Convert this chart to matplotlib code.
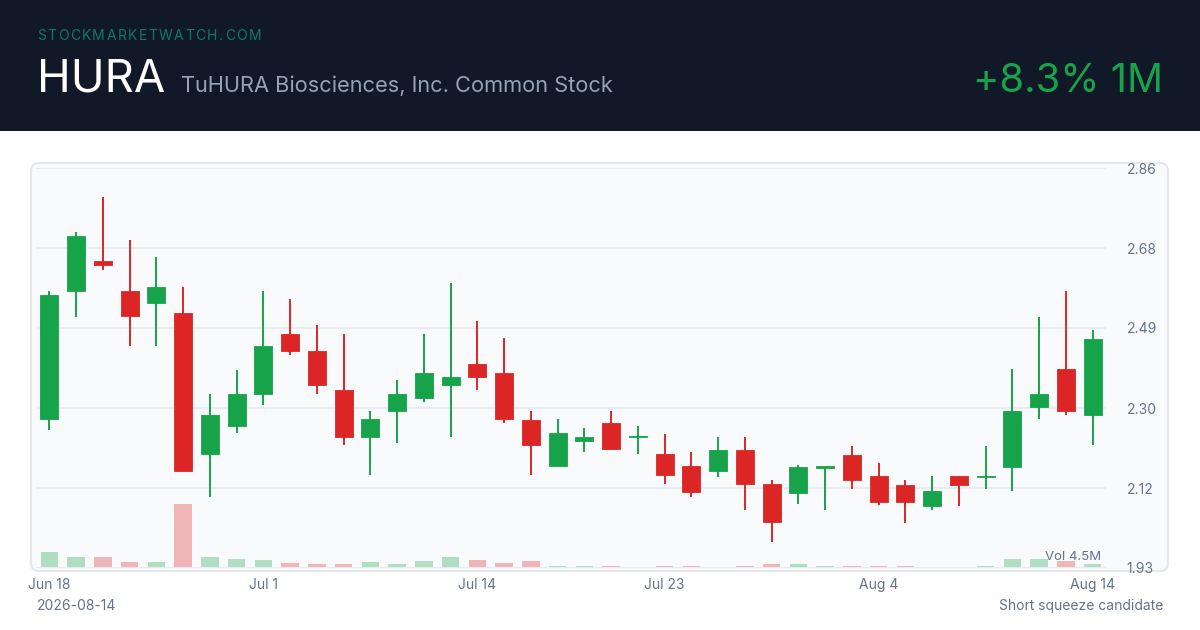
import numpy as np
import pandas as pd
import matplotlib
matplotlib.use("Agg")
import matplotlib.pyplot as plt
from matplotlib.patches import Rectangle, FancyBboxPatch
from matplotlib.transforms import IdentityTransform

plt.rcParams['font.family'] = ['Inter', 'DejaVu Sans']

# 日线数据 (HURA, 2026-06-18 ~ 2026-08-14)
opens = [2.278, 2.577, 2.646, 2.576, 2.547, 2.526, 2.198, 2.262, 2.337, 2.476,
         2.436, 2.347, 2.237, 2.298, 2.327, 2.357, 2.407, 2.386, 2.277, 2.168,
         2.228, 2.268, 2.236, 2.198, 2.168, 2.158, 2.207, 2.128, 2.106, 2.165,
         2.195, 2.146, 2.126, 2.077, 2.146, 2.144, 2.166, 2.306, 2.395, 2.287]
highs = [2.575, 2.714, 2.795, 2.695, 2.655, 2.586, 2.336, 2.392, 2.575, 2.557,
         2.496, 2.476, 2.296, 2.368, 2.476, 2.595, 2.506, 2.466, 2.297, 2.278,
         2.257, 2.297, 2.262, 2.243, 2.202, 2.237, 2.237, 2.136, 2.171, 2.167,
         2.216, 2.175, 2.136, 2.146, 2.147, 2.216, 2.395, 2.516, 2.576, 2.486]
lows = [2.252, 2.516, 2.626, 2.447, 2.447, 2.157, 2.098, 2.247, 2.312, 2.427,
        2.337, 2.217, 2.148, 2.222, 2.317, 2.237, 2.347, 2.268, 2.148, 2.168,
        2.202, 2.208, 2.198, 2.128, 2.098, 2.143, 2.068, 1.993, 2.081, 2.067,
        2.116, 2.079, 2.037, 2.066, 2.076, 2.116, 2.111, 2.278, 2.287, 2.217]
closes = [2.566, 2.705, 2.636, 2.517, 2.586, 2.158, 2.287, 2.337, 2.447, 2.436,
          2.357, 2.237, 2.278, 2.337, 2.386, 2.377, 2.377, 2.278, 2.218, 2.247,
          2.237, 2.208, 2.237, 2.148, 2.108, 2.207, 2.128, 2.038, 2.166, 2.166,
          2.136, 2.086, 2.086, 2.110, 2.126, 2.145, 2.296, 2.336, 2.296, 2.465]
volumes = [1.09, 0.76, 0.80, 0.40, 0.40, 4.50, 0.78, 0.61, 0.54, 0.35,
           0.26, 0.26, 0.44, 0.26, 0.49, 0.76, 0.54, 0.33, 0.47, 0.14,
           0.16, 0.12, 0.09, 0.14, 0.16, 0.09, 0.16, 0.26, 0.26, 0.12,
           0.16, 0.16, 0.12, 0.05, 0.05, 0.16, 0.66, 0.64, 0.49, 0.28]  # 百万股

holidays = ['2026-06-19', '2026-07-03']
dates = pd.bdate_range('2026-06-18', '2026-08-14')
dates = dates[~dates.isin(pd.to_datetime(holidays))]

tick_dates = ['2026-06-18', '2026-07-01', '2026-07-14', '2026-07-23', '2026-08-04', '2026-08-14']
price_ticks = [1.932, 2.118, 2.304, 2.490, 2.676, 2.862]

ticker = "HURA"
company = "TuHURA Biosciences, Inc. Common Stock"
change_text = "+8.3% 1M"
site = "STOCKMARKETWATCH.COM"
date_text = "2026-08-14"
note_text = "Short squeeze candidate"

GREEN = '#16a34a'
RED = '#dc2626'
SLATE = '#64748b'
W, H = 1200, 630

fig = plt.figure(figsize=(12, 6.3), dpi=100)
fig.patch.set_facecolor('white')

def fy(y):
    return 1 - y / H

# 顶部深色标题栏
fig.patches.append(Rectangle((0, fy(131)), 1, 131 / H, transform=fig.transFigure,
                             facecolor='#111827', edgecolor='none', zorder=-2))
# 图表面板(圆角)
fig.patches.append(FancyBboxPatch((31, H - 571), 1137, 408, boxstyle='round,pad=0,rounding_size=8',
                                  transform=IdentityTransform(), facecolor='#f8fafc',
                                  edgecolor='#e5e7eb', linewidth=1.5, zorder=-2))

# 字母间距的站点名
renderer = fig.canvas.get_renderer()
xs = 37.0
widths = []
for ch in site:
    t = fig.text(0, 0, ch, fontsize=10)
    widths.append(t.get_window_extent(renderer).width)
    t.remove()
gap = (224 - sum(widths)) / (len(site) - 1)
for ch, w in zip(site, widths):
    fig.text(xs / W, fy(40), ch, fontsize=10, color='#0f7a62', va='baseline', ha='left')
    xs += w + gap

fig.text(37 / W, fy(92), ticker, fontsize=32.7, color='white', va='baseline', ha='left')
fig.text(181 / W, fy(92), company, fontsize=15.7, color='#94a3b8', va='baseline', ha='left')
fig.text(1163 / W, fy(92), change_text, fontsize=28.8, color=GREEN, va='baseline', ha='right')
fig.text(37 / W, fy(606), date_text, fontsize=10, color=SLATE, va='center', ha='left')
fig.text(1163 / W, fy(606), note_text, fontsize=10, color=SLATE, va='center', ha='right')

ax = fig.add_axes([36 / W, fy(568), 1070 / W, 400 / H])
ax.set_facecolor('none')

x = np.arange(len(dates))
o = np.array(opens); c = np.array(closes)
up = c >= o
colors = np.where(up, GREEN, RED)

# 成交量(次坐标)
axv = ax.twinx()
axv.bar(x, volumes, width=0.66, color=colors, alpha=0.32, linewidth=0, zorder=1)
axv.set_ylim(0, max(volumes) / 0.16)
axv.set_yticks([])
axv.text(1101 / W, fy(557), f"Vol {max(volumes):.1f}M", transform=fig.transFigure,
         fontsize=9.5, color=SLATE, ha='right', va='center')
for s in axv.spines.values():
    s.set_visible(False)

ax.set_zorder(axv.get_zorder() + 1)

ax.vlines(x, lows, highs, colors=colors, linewidth=1.4, zorder=3)
body_lo = np.minimum(o, c)
body_h = np.maximum(np.abs(c - o), 0.003)
ax.bar(x, body_h, bottom=body_lo, width=0.67, color=colors, edgecolor=colors,
       linewidth=0.6, zorder=4)

ax.set_xlim(-0.5, len(dates) - 0.5)
ax.set_ylim(price_ticks[0], price_ticks[-1])
ax.yaxis.tick_right()
ax.set_yticks(price_ticks)
ax.set_yticklabels([f"{v:.2f}" for v in price_ticks])
ax.grid(axis='y', color='#e8ebf0', linewidth=1.5, zorder=0)
ax.set_axisbelow(True)

idx = [list(dates).index(pd.Timestamp(d)) for d in tick_dates]
ax.set_xticks(idx)
ax.set_xticklabels([dates[i].strftime('%b ') + str(dates[i].day) for i in idx])
ax.tick_params(axis='y', length=0, pad=15, labelsize=10, labelcolor=SLATE)
ax.tick_params(axis='x', length=0, pad=7, labelsize=10, labelcolor=SLATE)
for s in ax.spines.values():
    s.set_visible(False)

fig.savefig('out.png', dpi=100, facecolor='white')
